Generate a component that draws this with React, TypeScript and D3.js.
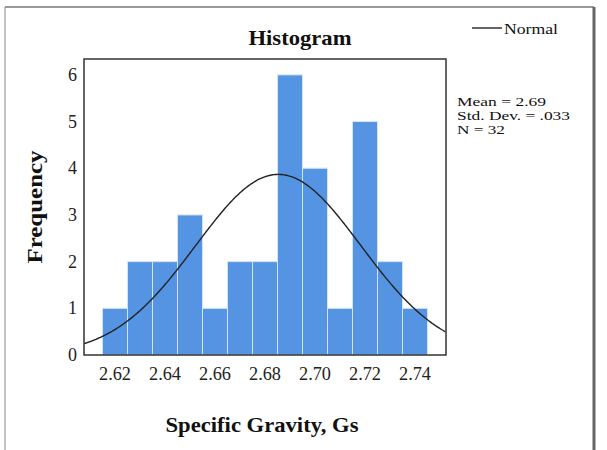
import React from "react";
import * as d3 from "d3";

const binCenters = [2.62, 2.63, 2.64, 2.65, 2.66, 2.67, 2.68, 2.69, 2.70, 2.71, 2.72, 2.73, 2.74];
const counts = [1, 2, 2, 3, 1, 2, 2, 6, 4, 1, 5, 2, 1];
const binWidth = 0.01;
const xTicks = [2.62, 2.64, 2.66, 2.68, 2.70, 2.72, 2.74];
const yTicks = [0, 1, 2, 3, 4, 5, 6];
const statsLines = ["Mean = 2.69", "Std. Dev. = .033", "N = 32"];
const meanVal = 2.6853;
const sdVal = 0.033;
const nVal = 32;

const W = 607;
const H = 450;
const left = 84, right = 446, top = 59, bottom = 355;
const serif = "'Liberation Serif', 'Times New Roman', serif";
const statTextWidths = [89, 113, 48];

export default function App() {
  const x = d3.scaleLinear().domain([2.6076, 2.7524]).range([left, right]);
  const y = d3.scaleLinear().domain([0, 6.34]).range([bottom, top]);

  const peak = (nVal * binWidth) / (sdVal * Math.sqrt(2 * Math.PI));
  const xs = d3.range(2.6076, 2.7525, 0.0005);
  const line = d3
    .line<number>()
    .x((v) => x(v))
    .y((v) => y(peak * Math.exp(-0.5 * ((v - meanVal) / sdVal) ** 2)))
    .curve(d3.curveBasis);

  return (
    <svg
      width={W}
      height={H}
      style={{ position: "absolute", left: 0, top: 0, background: "#fff" }}
      fontFamily={serif}
    >
      <rect x={0} y={0} width={W} height={H} fill="#fff" />
      {/* outer frame */}
      <line x1={5} y1={7} x2={594} y2={7} stroke="#777" strokeWidth={1.5} />
      <line x1={5} y1={7} x2={5} y2={H} stroke="#888" strokeWidth={1} />
      <line x1={594} y1={7} x2={594} y2={H} stroke="#666" strokeWidth={3} />

      <text x={300} y={45} textAnchor="middle" fontSize={21} fontWeight="bold" fill="#111" textLength={103} lengthAdjust="spacingAndGlyphs">
        Histogram
      </text>

      <clipPath id="plotClip">
        <rect x={left} y={top} width={right - left} height={bottom - top} />
      </clipPath>

      {binCenters.map((c, i) => (
        <rect
          key={i}
          x={x(c - binWidth / 2)}
          y={y(counts[i])}
          width={x(c + binWidth / 2) - x(c - binWidth / 2)}
          height={y(0) - y(counts[i])}
          fill="#5594e2"
          stroke="#d4e4f7"
          strokeWidth={1}
        />
      ))}

      <path d={line(xs) || ""} fill="none" stroke="#222" strokeWidth={1.4} clipPath="url(#plotClip)" />

      <rect x={left} y={top} width={right - left} height={bottom - top} fill="none" stroke="#333" strokeWidth={1.5} />

      {yTicks.map((t) => (
        <text key={t} x={77} y={y(t) + 6} textAnchor="end" fontSize={18} fill="#222">
          {t}
        </text>
      ))}
      {xTicks.map((t) => (
        <text key={t} x={x(t)} y={380} textAnchor="middle" fontSize={18} fill="#222" textLength={32} lengthAdjust="spacingAndGlyphs">
          {t.toFixed(2)}
        </text>
      ))}

      <text
        transform={`translate(42,207) rotate(-90)`}
        textAnchor="middle"
        fontSize={22}
        fontWeight="bold"
        fill="#111"
        textLength={113}
        lengthAdjust="spacingAndGlyphs"
      >
        Frequency
      </text>
      <text x={262} y={432} textAnchor="middle" fontSize={22} fontWeight="bold" fill="#111" textLength={193} lengthAdjust="spacingAndGlyphs">
        Specific Gravity, Gs
      </text>

      <line x1={472} y1={28} x2={502} y2={28} stroke="#333" strokeWidth={1.5} />
      <text x={504} y={34} fontSize={15} fill="#111" textLength={54} lengthAdjust="spacingAndGlyphs">
        Normal
      </text>

      {statsLines.map((s, i) => (
        <text
          key={s}
          x={457}
          y={106 + i * 14}
          fontSize={13.5}
          fill="#111"
          textLength={statTextWidths[i]}
          lengthAdjust="spacingAndGlyphs"
        >
          {s}
        </text>
      ))}
    </svg>
  );
}
